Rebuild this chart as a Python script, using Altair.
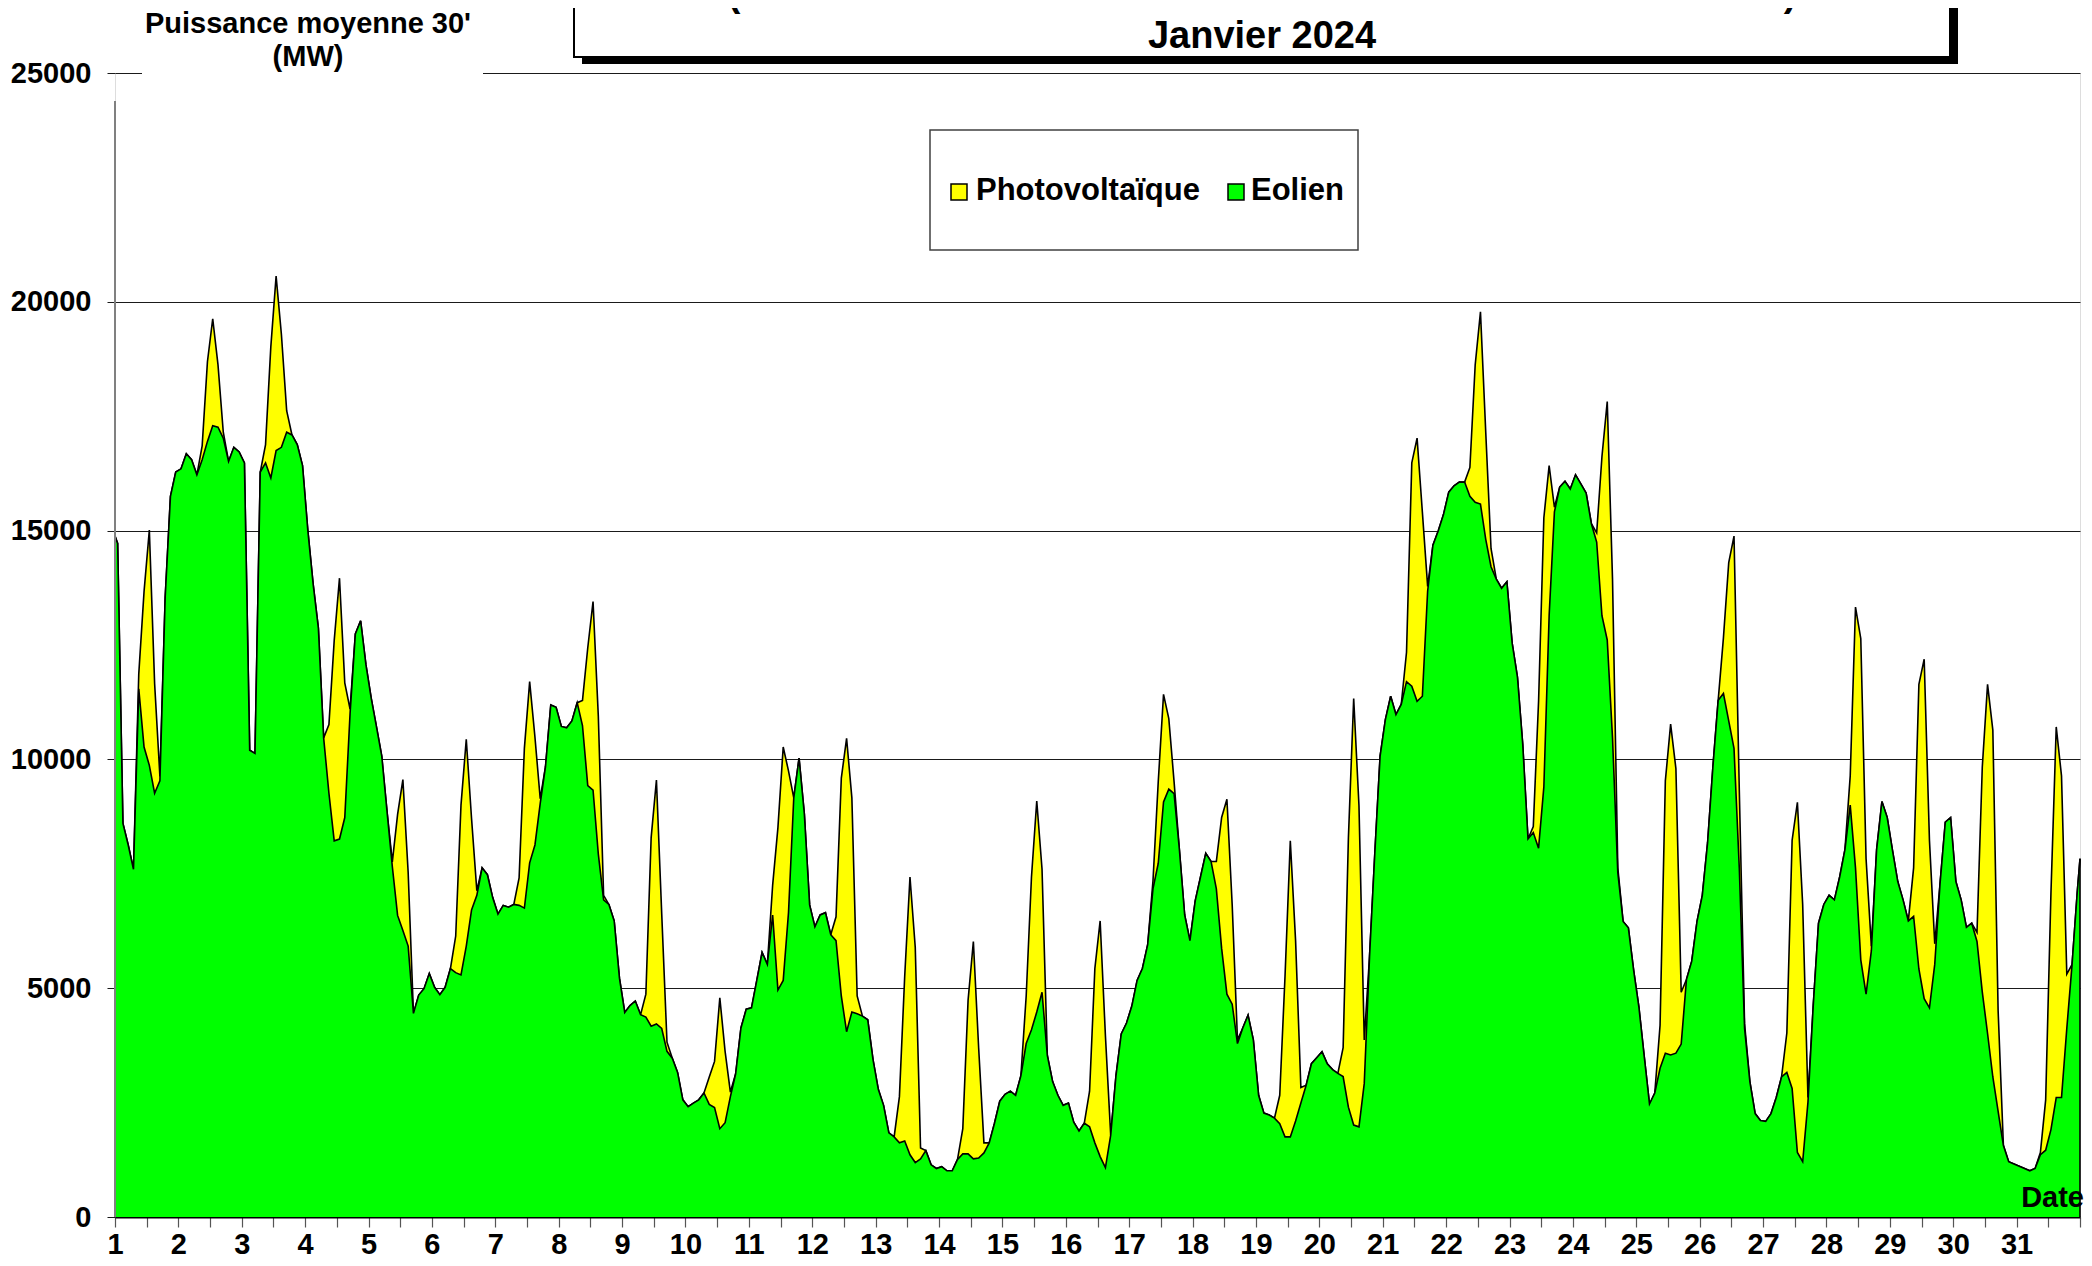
import altair as alt
import pandas as pd

# ---------------- data ----------------
# Half-hourly averages, sampled here every 2 hours (odd hours), MW
HOURS = [1, 3, 5, 7, 9, 11, 13, 15, 17, 19, 21, 23]
PV_HOURS = [9, 11, 13, 15, 17, 19]

eolien_start = 14880   # 1 Jan 00:00
eolien_end = 7830      # 31 Jan 24:00

eolien = [
    [14720, 8600, 8130, 7600, 11540, 10270, 9870, 9260, 9530, 13540, 15750, 16280],      # 1
    [16350, 16680, 16550, 16220, 16550, 16950, 17290, 17260, 17020, 16510, 16820, 16720],  # 2
    [16480, 10200, 10130, 16280, 16480, 16150, 16750, 16820, 17150, 17090, 16880, 16420],  # 3
    [15010, 13840, 12870, 10470, 9260, 8220, 8260, 8730, 11000, 12740, 13030, 12070],      # 4
    [11340, 10710, 10070, 8860, 7660, 6590, 6260, 5920, 4450, 4850, 4990, 5320],           # 5
    [5020, 4860, 5020, 5430, 5340, 5290, 5920, 6710, 7030, 7630, 7480, 6980],              # 6
    [6620, 6810, 6770, 6830, 6810, 6750, 7740, 8130, 9040, 9840, 11190, 11140],            # 7
    [10720, 10690, 10840, 11240, 10740, 9430, 9330, 7930, 6930, 6830, 6470, 5220],         # 8
    [4470, 4620, 4720, 4420, 4370, 4170, 4220, 4120, 3620, 3470, 3160, 2560],              # 9
    [2410, 2490, 2560, 2710, 2460, 2390, 1930, 2060, 2630, 3130, 4130, 4540],              # 10
    [4570, 5170, 5780, 5520, 6600, 4960, 5170, 6650, 9160, 10030, 8810, 6820],             # 11
    [6340, 6600, 6650, 6170, 6040, 4830, 4050, 4480, 4440, 4390, 4310, 3440],              # 12
    [2790, 2440, 1840, 1750, 1620, 1660, 1360, 1190, 1270, 1450, 1140, 1060],              # 13
    [1100, 1010, 1010, 1260, 1380, 1380, 1270, 1290, 1400, 1620, 2050, 2530],              # 14
    [2680, 2750, 2660, 3090, 3790, 4090, 4480, 4910, 3530, 2960, 2660, 2440],              # 15
    [2490, 2070, 1880, 2050, 1970, 1620, 1320, 1080, 1790, 3090, 4000, 4240],              # 16
    [4610, 5170, 5430, 5950, 7170, 7730, 9070, 9350, 9250, 8030, 6600, 6040],              # 17
    [6910, 7430, 7950, 7770, 7170, 5870, 4870, 4650, 3790, 4130, 4410, 3870],              # 18
    [2660, 2270, 2230, 2160, 2040, 1750, 1750, 2100, 2490, 2880, 3350, 3480],              # 19
    [3610, 3350, 3220, 3140, 3070, 2400, 2010, 1970, 2920, 5690, 7950, 10070],             # 20
    [10870, 11380, 10980, 11200, 11700, 11600, 11270, 11380, 13680, 14680, 14990, 15350],  # 21
    [15840, 15980, 16060, 16060, 15750, 15620, 15580, 14810, 14210, 13940, 13740, 13880],  # 22
    [12540, 11800, 10330, 8260, 8400, 8060, 9400, 13140, 15410, 15950, 16080, 15910],      # 23
    [16220, 16020, 15820, 15150, 14750, 13140, 12610, 10470, 7530, 6460, 6320, 5390],      # 24
    [4580, 3510, 2470, 2710, 3250, 3580, 3540, 3580, 3780, 5190, 5590, 6460],              # 25
    [7030, 8180, 9830, 11290, 11440, 10840, 10240, 7630, 4120, 2960, 2260, 2110],          # 26
    [2090, 2260, 2610, 3060, 3160, 2810, 1410, 1210, 2510, 4620, 6420, 6830],              # 27
    [7030, 6930, 7430, 8030, 9000, 7630, 5620, 4870, 5820, 8030, 9080, 8730],              # 28
    [8010, 7330, 6930, 6470, 6570, 5420, 4770, 4570, 5520, 7280, 8630, 8730],              # 29
    [7330, 6930, 6330, 6420, 6020, 4920, 4010, 3060, 2310, 1560, 1210, 1160],              # 30
    [1110, 1060, 1010, 1060, 1360, 1460, 1910, 2610, 2610, 4120, 5520, 7130],              # 31
]

# Photovoltaic at 9h, 11h, 13h, 15h, 17h, 19h (0 at other hours)
photovoltaique = [
    [330, 3400, 5140, 2400, 100, 0],     # 1
    [300, 1740, 2340, 1360, 130, 0],     # 2
    [400, 2870, 3810, 2470, 470, 0],     # 3
    [1500, 4380, 5700, 2940, 100, 0],    # 4
    [100, 2210, 3300, 1610, 0, 0],       # 5
    [800, 3710, 4520, 2000, 100, 0],     # 6
    [600, 3490, 3960, 2360, 100, 0],     # 7
    [550, 3010, 4120, 3010, 100, 0],     # 8
    [500, 4120, 5330, 2510, 200, 0],     # 9
    [600, 1010, 2860, 1560, 100, 0],     # 10
    [650, 3550, 5100, 3100, 0, 0],       # 11
    [520, 4760, 6410, 4680, 390, 0],     # 12
    [1010, 3600, 6070, 4700, 240, 0],    # 13
    [550, 3360, 4750, 2410, 220, 0],     # 14
    [1040, 3340, 4610, 2690, 0, 0],      # 15
    [780, 3810, 5150, 2880, 0, 0],       # 16
    [170, 1780, 2350, 1540, 260, 0],     # 17
    [600, 2860, 4260, 2170, 80, 0],      # 18
    [620, 3510, 6470, 3940, 340, 0],     # 19
    [630, 5890, 9320, 7020, 950, 0],     # 20
    [640, 4880, 5750, 4030, 100, 0],     # 21
    [630, 3000, 4200, 2340, 400, 0],     # 22
    [130, 3210, 5880, 3280, 100, 0],     # 23
    [200, 3480, 5210, 3470, 100, 0],     # 24
    [940, 5950, 7230, 6220, 1130, 0],    # 25
    [1220, 3460, 4640, 1700, 100, 0],    # 26
    [860, 5420, 7650, 5620, 100, 0],     # 27
    [640, 5700, 7020, 2960, 100, 0],     # 28
    [1060, 6220, 7420, 3660, 450, 0],    # 29
    [200, 4910, 7630, 7580, 2200, 0],    # 30
    [50, 1100, 5170, 8100, 7030, 1190],  # 31
]

day_labels = [str(d) for d in range(1, 32)]
y_ticks = [0, 5000, 10000, 15000, 20000, 25000]

title_line1 = "(Puissances installées : éolien 23 017 MW & PV 17 110 MW)"
title_line2 = "Janvier 2024"
y_title = ["Puissance moyenne 30'", "(MW)"]
series_names = ["Photovoltaïque", "Eolien"]

# ---------------- build table ----------------
rows = [{"t": 0.0, "eolien": eolien_start, "pv": 0}]
for d in range(31):
    for i, h in enumerate(HOURS):
        p = photovoltaique[d][PV_HOURS.index(h)] if h in PV_HOURS else 0
        rows.append({"t": d + h / 24.0, "eolien": eolien[d][i], "pv": p})
rows.append({"t": 31.0, "eolien": eolien_end, "pv": 0})
df = pd.DataFrame(rows)
df["total"] = df["eolien"] + df["pv"]

# ---------------- layout ----------------
W, H = 1965, 1144
FONT = "Liberation Sans"
YELLOW = "#FFFF00"
GREEN = "#00FF00"

xscale = alt.Scale(domain=[0, 31], nice=False, zero=False)
yscale = alt.Scale(domain=[0, 25000], nice=False)

label_expr = ("(datum.value % 1 == 0 && datum.value < 31) ? "
              "[" + ",".join("'%s'" % s for s in day_labels) + "][datum.value] : ''")

xaxis = alt.Axis(
    values=[i * 0.5 for i in range(63)], labelExpr=label_expr, title=None,
    tickSize=10, tickColor="#555555", tickWidth=1.2,
    domainColor="#000000", domainWidth=2,
    labelFont=FONT, labelFontSize=29, labelFontWeight="bold", labelColor="black",
    labelPadding=3, labelOverlap=False, labelFlush=False, grid=False,
)
yaxis = alt.Axis(
    values=y_ticks, format="d", title=None, grid=True, gridColor="#1a1a1a", gridWidth=1,
    domain=False, tickSize=8, tickColor="#1a1a1a", tickWidth=1,
    labelFont=FONT, labelFontSize=29, labelFontWeight="bold", labelColor="black",
    labelPadding=16,
)

outline = {"color": "black", "strokeWidth": 1.6}

X = alt.X("t:Q", scale=xscale, axis=xaxis, title=None)

area_total = alt.Chart(df).mark_area(color=YELLOW, line=outline, opacity=1).encode(
    x=X,
    y=alt.Y("total:Q", scale=yscale, axis=yaxis, title=None),
)
area_wind = alt.Chart(df).mark_area(color=GREEN, line=outline, opacity=1).encode(
    x=X,
    y=alt.Y("eolien:Q", scale=yscale, axis=yaxis, title=None),
)
end_edge = alt.Chart(df).transform_filter("datum.t == 31").mark_rule(
    color="black", strokeWidth=1.6
).encode(
    x=X,
    y=alt.Y("eolien:Q", scale=yscale, axis=yaxis, title=None),
    y2=alt.datum(0),
)

dummy = pd.DataFrame({"k": [0]})
base = alt.Chart(dummy)

# y-axis line (starts below the axis-title box)
y_domain = base.mark_rule(color="#808080", strokeWidth=2).encode(
    x=alt.value(0), y=alt.value(28), y2=alt.value(H)
)
# white box behind y title
ytitle_box = base.mark_rect(color="white").encode(
    x=alt.value(27), x2=alt.value(368), y=alt.value(-65), y2=alt.value(27)
)
ytitle1 = base.mark_text(font=FONT, fontSize=29, fontWeight="bold", align="center",
                         baseline="alphabetic", color="black").encode(
    x=alt.value(193), y=alt.value(-40), text=alt.value(y_title[0]))
ytitle2 = base.mark_text(font=FONT, fontSize=29, fontWeight="bold", align="center",
                         baseline="alphabetic", color="black").encode(
    x=alt.value(193), y=alt.value(-7), text=alt.value(y_title[1]))

# title box with shadow
title_shadow = base.mark_rect(color="black").encode(
    x=alt.value(467), x2=alt.value(1843), y=alt.value(-90), y2=alt.value(-9))
title_box = base.mark_rect(fill="white", stroke="black", strokeWidth=2).encode(
    x=alt.value(459), x2=alt.value(1835), y=alt.value(-90), y2=alt.value(-16))
title1 = base.mark_text(font=FONT, fontSize=38, fontWeight="bold", align="center",
                        baseline="alphabetic", color="black").encode(
    x=alt.value(1147), y=alt.value(-67), text=alt.value(title_line1))
title2 = base.mark_text(font=FONT, fontSize=38, fontWeight="bold", align="center",
                        baseline="alphabetic", color="black").encode(
    x=alt.value(1147), y=alt.value(-25), text=alt.value(title_line2))

# legend
legend_box = base.mark_rect(fill="white", stroke="#404040", strokeWidth=1.5).encode(
    x=alt.value(815), x2=alt.value(1243), y=alt.value(57), y2=alt.value(177))
leg_sq_pv = base.mark_rect(fill=YELLOW, stroke="black", strokeWidth=1.5).encode(
    x=alt.value(836), x2=alt.value(852), y=alt.value(111), y2=alt.value(127))
leg_sq_wind = base.mark_rect(fill=GREEN, stroke="black", strokeWidth=1.5).encode(
    x=alt.value(1113), x2=alt.value(1129), y=alt.value(111), y2=alt.value(127))
leg_txt_pv = base.mark_text(font=FONT, fontSize=31, fontWeight="bold", align="left",
                            baseline="middle", color="black").encode(
    x=alt.value(861), y=alt.value(118), text=alt.value(series_names[0]))
leg_txt_wind = base.mark_text(font=FONT, fontSize=31, fontWeight="bold", align="left",
                              baseline="middle", color="black").encode(
    x=alt.value(1136), y=alt.value(118), text=alt.value(series_names[1]))

date_lbl = base.mark_text(font=FONT, fontSize=29, fontWeight="bold", align="right",
                          baseline="alphabetic", color="black").encode(
    x=alt.value(1969), y=alt.value(1134), text=alt.value("Date"))

chart = alt.layer(
    area_total, area_wind, end_edge, y_domain, ytitle_box, ytitle1, ytitle2,
    title_shadow, title_box, title1, title2,
    legend_box, leg_sq_pv, leg_sq_wind, leg_txt_pv, leg_txt_wind, date_lbl,
).properties(
    width=W, height=H,
    autosize=alt.AutoSizeParams(type="none"),
    padding={"left": 107, "top": 65, "right": 4, "bottom": 41},
).configure_view(strokeWidth=0).configure(background="white")

chart.save("out.html", embed_options={"renderer": "svg", "actions": False})
